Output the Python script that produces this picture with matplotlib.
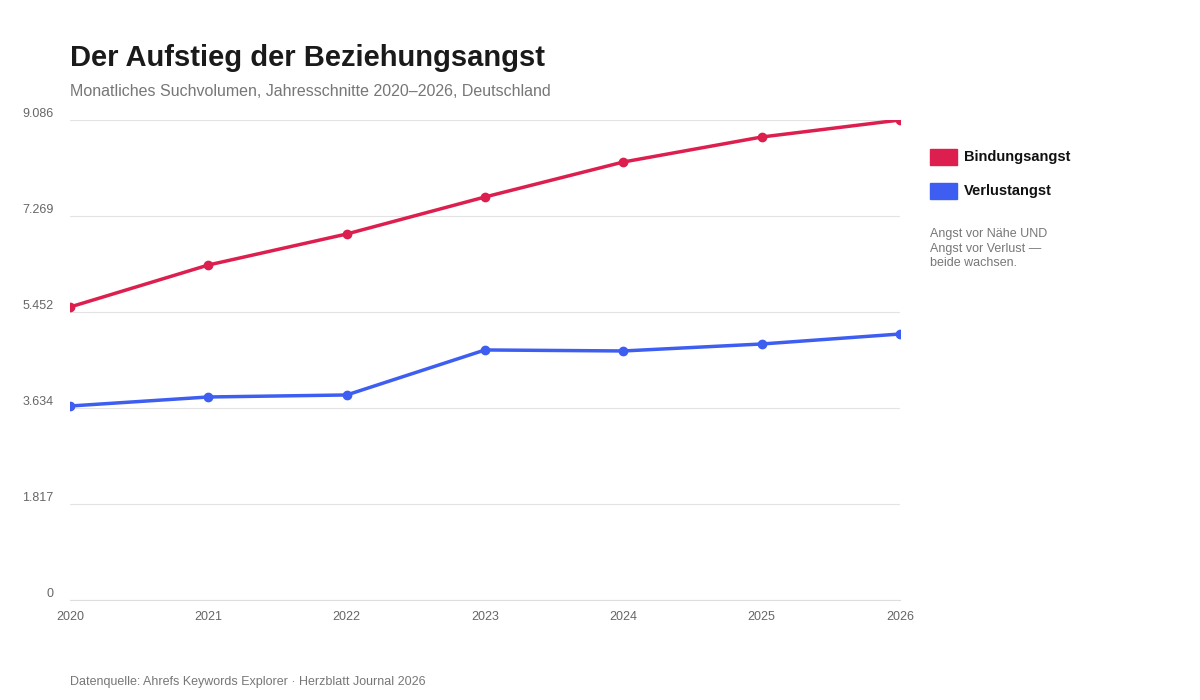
import matplotlib.pyplot as plt
from matplotlib.patches import Rectangle

years = [2020, 2021, 2022, 2023, 2024, 2025, 2026]
bindungsangst = [5546, 6341, 6928, 7629, 8291, 8764, 9086]
verlustangst = [3672, 3843, 3881, 4733, 4714, 4846, 5035]
y_ticks = [0, 1817, 3634, 5452, 7269, 9086]
y_labels = ['0', '1.817', '3.634', '5.452', '7.269', '9.086']

RED = '#dc1f4e'
BLUE = '#3d5ef0'

plt.rcParams['font.family'] = ['Liberation Sans', 'DejaVu Sans']
fig = plt.figure(figsize=(12, 7), dpi=100)
ax = fig.add_axes([70 / 1200, 100 / 700, 830 / 1200, 480 / 700])

ax.plot(years, bindungsangst, color=RED, lw=2.5, marker='o', ms=6)
ax.plot(years, verlustangst, color=BLUE, lw=2.5, marker='o', ms=6)

ax.set_xlim(2020, 2026)
ax.set_ylim(0, 9086)
ax.set_yticks(y_ticks)
ax.set_yticklabels(y_labels)
ax.set_xticks(years)
ax.tick_params(length=0, labelsize=9, colors='#666666')
ax.tick_params(axis='y', pad=12)
ax.tick_params(axis='x', pad=8)
for lbl in ax.get_yticklabels():
    lbl.set_verticalalignment('bottom')
    lbl.set_horizontalalignment('right')
ax.grid(axis='y', color='#e3e3e3', lw=0.8)
for s in ax.spines.values():
    s.set_visible(False)
ax.spines['bottom'].set_visible(True)
ax.spines['bottom'].set_color('#dddddd')

fig.text(70 / 1200, 1 - 58 / 700, 'Der Aufstieg der Beziehungsangst', fontsize=21,
         fontweight='bold', color='#1a1a1a', va='center')
fig.text(70 / 1200, 1 - 91 / 700, 'Monatliches Suchvolumen, Jahresschnitte 2020–2026, Deutschland',
         fontsize=11.5, color='#777777', va='center')
fig.text(70 / 1200, 1 - 682 / 700, 'Datenquelle: Ahrefs Keywords Explorer · Herzblatt Journal 2026',
         fontsize=9, color='#777777', va='center')

for i, (name, col) in enumerate([('Bindungsangst', RED), ('Verlustangst', BLUE)]):
    yc = 157 + i * 34
    fig.patches.append(Rectangle((930 / 1200, 1 - (yc + 8) / 700), 27 / 1200, 16 / 700,
                                 color=col, transform=fig.transFigure))
    fig.text(964 / 1200, 1 - yc / 700, name, fontsize=10.5, fontweight='bold',
             color='#111111', va='center')
fig.text(930 / 1200, 1 - 228 / 700, 'Angst vor Nähe UND\nAngst vor Verlust —\nbeide wachsen.',
         fontsize=9, color='#777777', va='top', linespacing=1.3)

fig.savefig('out.png', dpi=100, facecolor='white')
